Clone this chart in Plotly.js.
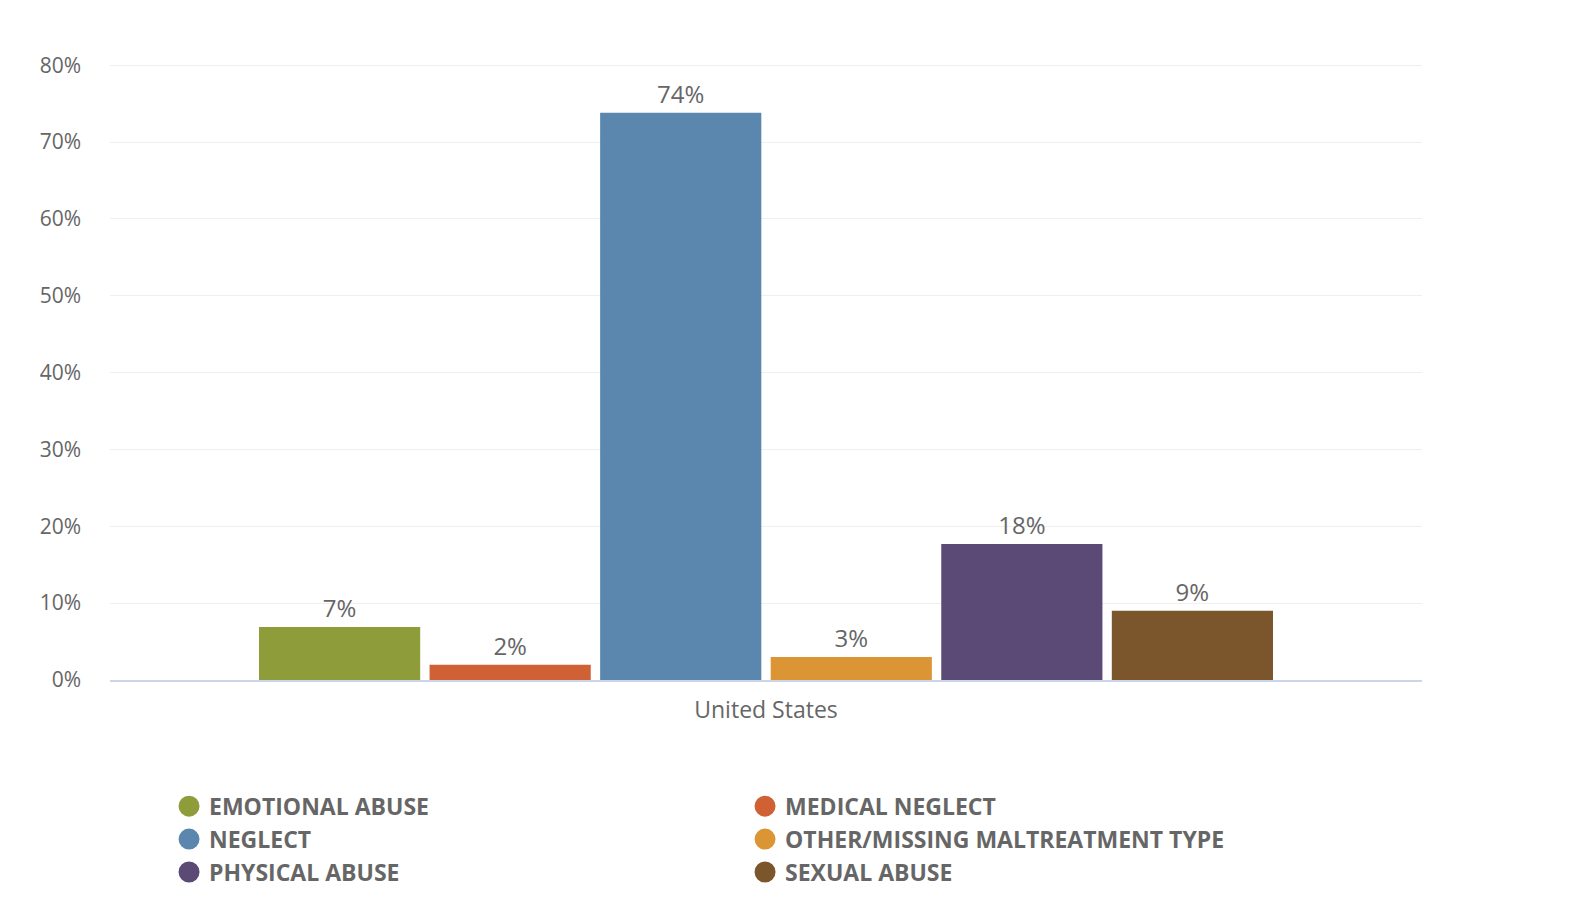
<!DOCTYPE html>
<html>
<head>
<meta charset="utf-8">
<script src="https://cdn.plot.ly/plotly-3.0.1.min.js"></script>
<style>
  html, body { margin: 0; padding: 0; background: #fff; }
  #chart { width: 1570px; height: 906px; }
</style>
</head>
<body>
<div id="chart"></div>
<script>
const categories = ["United States"];
const seriesNames = [
  "EMOTIONAL ABUSE",
  "MEDICAL NEGLECT",
  "NEGLECT",
  "OTHER/MISSING MALTREATMENT TYPE",
  "PHYSICAL ABUSE",
  "SEXUAL ABUSE"
];
const seriesValues = [6.9, 2.0, 73.8, 3.0, 17.7, 9.0];
const seriesColors = ["#8f9c3a", "#d06134", "#5b87ae", "#dc9535", "#5c4a76", "#7b552c"];
const yTicks = [0, 10, 20, 30, 40, 50, 60, 70, 80];
const yTickText = ["0%", "10%", "20%", "30%", "40%", "50%", "60%", "70%", "80%"];

const textColor = "#666666";
const fontFamily = "'Open Sans', 'DejaVu Sans', sans-serif";

// bars (legend drawn by marker-only traces so the symbols are circles)
const bars = seriesNames.map((name, i) => ({
  type: "bar",
  name: name,
  x: categories,
  y: [seriesValues[i]],
  marker: { color: seriesColors[i] },
  texttemplate: "%{y:.0f}%",
  textposition: "outside",
  textfont: { size: 24, color: textColor, family: fontFamily },
  cliponaxis: false,
  showlegend: false,
  hoverinfo: "name+y"
}));

const legendItems = seriesNames.map((name, i) => ({
  type: "scatter",
  mode: "markers",
  name: name,
  x: [null],
  y: [null],
  marker: { symbol: "circle", size: 16, color: seriesColors[i],
            line: { color: seriesColors[i], width: 5 } },
  showlegend: true
}));

Plotly.newPlot("chart", bars.concat(legendItems), {
  width: 1570,
  height: 906,
  margin: { l: 110, r: 148, t: 64, b: 226 },
  paper_bgcolor: "#ffffff",
  plot_bgcolor: "#ffffff",
  barmode: "group",
  bargap: 0.22,
  bargroupgap: 0.055,
  font: { family: fontFamily, color: textColor },
  xaxis: {
    type: "category",
    showline: true,
    linecolor: "#ccd6eb",
    linewidth: 2,
    ticks: "",
    showgrid: false,
    tickfont: { size: 23, color: textColor },
    ticklabelstandoff: 8,
    fixedrange: true
  },
  yaxis: {
    range: [0, 80.15],
    tickmode: "array",
    tickvals: yTicks,
    ticktext: yTickText,
    showgrid: true,
    gridcolor: "#efefef",
    gridwidth: 1,
    zeroline: false,
    showline: false,
    ticks: "",
    tickfont: { size: 21, color: textColor },
    ticklabelstandoff: 28,
    fixedrange: true
  },
  showlegend: true,
  legend: {
    orientation: "h",
    x: 0.045,
    xanchor: "left",
    y: -0.17,
    yanchor: "top",
    entrywidth: 531,
    entrywidthmode: "pixels",
    traceorder: "normal",
    font: { size: 23, color: textColor, family: fontFamily, weight: "bold" },
    itemclick: false,
    itemdoubleclick: false
  }
}, { displayModeBar: false });
</script>
</body>
</html>
